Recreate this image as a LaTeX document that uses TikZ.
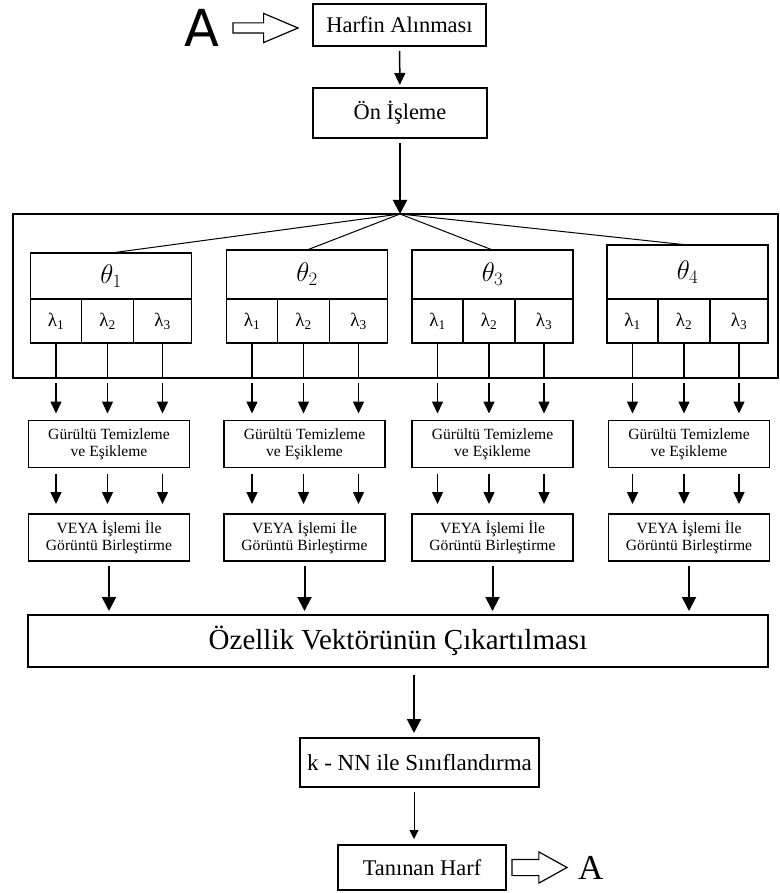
\RequirePackage{fix-cm}
\documentclass[tikz,border=0pt]{standalone}
\usepackage{fontspec}
\setmainfont{Liberation Serif}
\newfontfamily\handfont{DejaVu Sans}
\usetikzlibrary{positioning, arrows.meta, shapes.arrows}

\begin{document}
\begin{tikzpicture}[
      x=1pt, y=-1pt,
      font=\fontsize{22.4}{26}\selectfont,
      >={Triangle[width=11pt, length=12pt]},
      box/.style={rectangle, draw=black, line width=1.2pt, align=center, inner sep=0pt, outer sep=0pt},
      head/.style={box, minimum width=161pt, font=\fontsize{27}{30}\selectfont},
      cell/.style={box, minimum height=44pt, font=\fontsize{19}{22}\selectfont},
      stepbox/.style={box, minimum width=161pt, minimum height=47pt, font=\fontsize{15.6}{17.3}\selectfont},
      hollow/.style={single arrow, draw=black, line width=1.2pt, inner sep=0pt, outer sep=0pt},
      arrow/.style={->, line width=1.5pt},
      bigarrow/.style={-{Triangle[width=14pt, length=14pt]}, line width=2pt},
      thinarrow/.style={-{Triangle[width=9pt, length=9pt]}, line width=1pt}
  ]
  \useasboundingbox (0,0) rectangle (779,893);

  % Top
  \node[box, minimum width=173pt, minimum height=42pt] (harf) at (399.5,25) {Harfin Alınması};
  \node[hollow, minimum height=65pt, inner ysep=4.5pt, single arrow head extend=9.5pt, single arrow tip angle=46, left=15pt of harf, yshift=-3pt] (inarrow) {};
  \node[font=\handfont\fontsize{51}{51}\selectfont, inner sep=0pt, left=13pt of inarrow] (inA) {A};
  \node[box, minimum width=174pt, minimum height=50pt] (onis) at (400,113) {Ön İşleme};

  % Frame and bottom
  \node[box, minimum width=765pt, minimum height=164pt] (frame) at (395.5,296) {};
  \coordinate (apex) at (onis.south |- frame.north);
  \node[box, minimum width=740pt, minimum height=52pt, font=\fontsize{29}{34}\selectfont] (ozel) at (398,641) {Özellik Vektörünün Çıkartılması};
  \node[box, minimum width=239pt, minimum height=49pt, font=\fontsize{23}{27}\selectfont] (knn) at (419.5,762.5) {k - NN ile Sınıflandırma};
  \node[box, minimum width=168pt, minimum height=45pt] (tanin) at (422,867.5) {Tanınan Harf};
  \node[hollow, minimum height=55pt, inner ysep=7.5pt, single arrow head extend=7.5pt, single arrow tip angle=58, right=6pt of tanin] (outarrow) {};
  \node[font=\fontsize{35}{35}\selectfont, inner sep=0pt, right=11pt of outarrow] (outA) {A};

  % Columns
  \foreach \i/\x/\t/\g in {1/111/253/109, 2/307/250/304.5, 3/492.5/250/492.5, 4/687.5/245/689} {
    \node[head, minimum height={299-\t}] (head\i) at (\x,{(\t+299)/2}) {$\theta_\i$};
    \node[cell, minimum width=51pt, below right=0pt of head\i.south west] (c\i1) {λ\textsubscript{1}};
    \node[cell, minimum width=52pt, right=0pt of c\i1] (c\i2) {λ\textsubscript{2}};
    \node[cell, minimum width=58pt, right=0pt of c\i2] (c\i3) {λ\textsubscript{3}};
    \node[stepbox] (gur\i) at (\g,444) {Gürültü Temizleme\\ve Eşikleme};
    \node[stepbox] (veya\i) at (\g,537.5) {VEYA İşlemi İle\\Görüntü Birleştirme};
    \draw[line width=1pt] (apex) -- (head\i.north);
    \foreach \j in {1,2,3} {
      \draw[line width=1.2pt] (c\i\j.south) -- (c\i\j.south |- frame.south);
      \draw[arrow, shorten <=5pt, shorten >=7pt] (c\i\j.south |- frame.south) -- (c\i\j.south |- gur\i.north);
      \draw[arrow, shorten <=6pt, shorten >=10pt] (c\i\j.south |- gur\i.south) -- (c\i\j.south |- veya\i.north);
    }
    \draw[bigarrow, shorten <=5pt, shorten >=4pt] (veya\i.south) -- (veya\i.south |- ozel.north);
  }

  % Arrows
  \draw[arrow, shorten <=5pt, shorten >=3pt] (harf) -- (onis);
  \draw[bigarrow, shorten <=5pt] (onis) -- (apex);
  \draw[bigarrow, shorten <=8pt, shorten >=5pt] ([xshift=-5.5pt]knn.north |- ozel.south) -- ([xshift=-5.5pt]knn.north);
  \draw[thinarrow, shorten <=5pt, shorten >=6pt] ([xshift=-5.5pt]knn.south) -- ([xshift=-5.5pt]knn.south |- tanin.north);

\end{tikzpicture}
\end{document}
